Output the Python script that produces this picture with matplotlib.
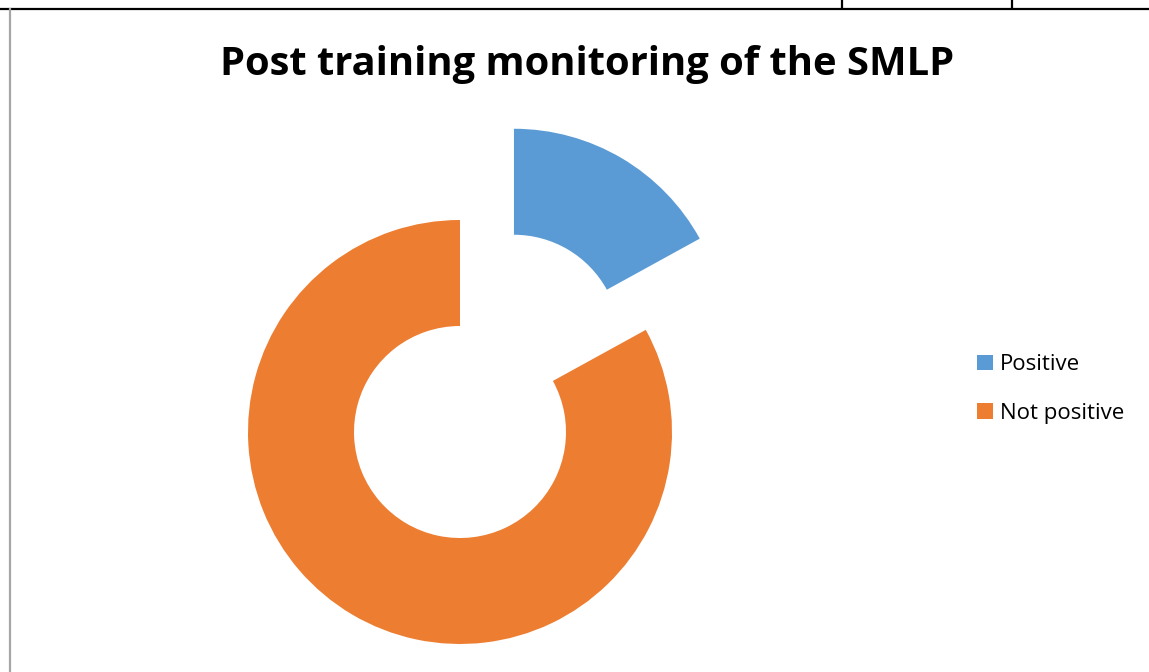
import matplotlib
matplotlib.use("Agg")
import matplotlib.pyplot as plt
from matplotlib.lines import Line2D

labels = ["Positive", "Not positive"]
values = [17, 83]
colors = ["#5b9bd5", "#ed7d31"]

W, H = 1149, 672
fig = plt.figure(figsize=(W / 100, H / 100), dpi=100)

# cornice del documento da cui proviene il grafico
fig.add_artist(Line2D([0, 1], [1 - 8.5 / H, 1 - 8.5 / H], color="black", lw=1.6))
for xp in (842, 1012):
    fig.add_artist(Line2D([xp / W, xp / W], [1, 1 - 8 / H], color="black", lw=1.6))
fig.add_artist(Line2D([10 / W, 10 / W], [1 - 9 / H, 0], color="#a6a6a6", lw=1.6))

# asse posizionato in modo che il centro della ciambella cada a (460, 432) px
R = 212
cx, cy = 460, H - 432
ax = fig.add_axes([(cx - 2 * R) / W, (cy - 2 * R) / H, 4 * R / W, 4 * R / H])

wedges, _ = ax.pie(values, colors=colors, radius=1, startangle=90, counterclock=False,
                   explode=[0.5, 0], wedgeprops=dict(width=0.5, linewidth=0))
ax.set_aspect("auto")
ax.set_xlim(-2, 2)
ax.set_ylim(-2, 2)
ax.axis("off")

fig.text(587 / W, 1 - 64 / H, "Post training monitoring of the SMLP",
         ha="center", va="center", fontsize=28.7, fontweight="bold", family="Open Sans")

fig.legend(wedges, labels, loc="center left", bbox_to_anchor=(957 / W, 1 - 389 / H),
           frameon=False, prop=dict(family="Open Sans", size=16),
           handlelength=0.72, handleheight=0.72, handletextpad=0.3, labelspacing=1.23)

plt.savefig("out.png", dpi=100)
